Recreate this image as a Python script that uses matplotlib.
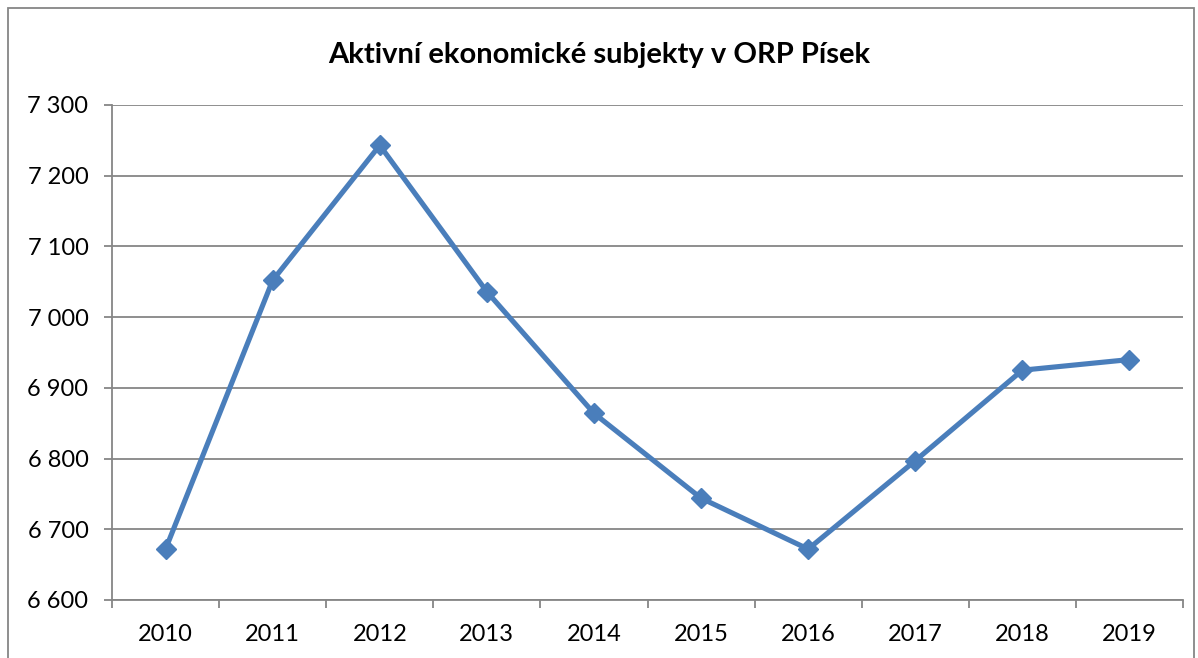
import matplotlib
matplotlib.use("Agg")
import matplotlib.pyplot as plt
from matplotlib.patches import Rectangle
import numpy as np

years = ["2010", "2011", "2012", "2013", "2014", "2015", "2016", "2017", "2018", "2019"]
values = [6672, 7052, 7243, 7036, 6864, 6744, 6672, 6797, 6925, 6940]
yticks = [6600, 6700, 6800, 6900, 7000, 7100, 7200, 7300]
title = "Aktivní ekonomické subjekty v ORP Písek"

plt.rcParams['font.family'] = ['Lato', 'DejaVu Sans']

fig = plt.figure(figsize=(11.98, 6.58), dpi=100)
ax = fig.add_axes([112/1198, 58/658, (1183-112)/1198, (600-105)/658])

grey = "#868686"
x = np.arange(len(years))
ax.plot(x, values, color="#4A7EBB", lw=3.7, marker="D", markersize=10.5, zorder=3)

ax.set_xlim(-0.5, len(years) - 0.5)
ax.set_ylim(6600, 7300)
ax.set_yticks(yticks)
ax.set_yticklabels([f"{v:,}".replace(",", " ") for v in yticks], fontsize=17)
ax.set_xticks(np.arange(-0.5, len(years)), labels=[])
ax.set_xticks(x, minor=True)
ax.set_xticklabels(years, minor=True, fontsize=17)
ax.tick_params(axis="x", which="minor", length=0, pad=17)
ax.tick_params(axis="x", which="major", length=6, color=grey, width=1.3)
ax.tick_params(axis="y", length=6, color=grey, width=1.3, pad=11)
ax.grid(axis="y", color=grey, lw=1.3)
ax.set_axisbelow(True)
for s in ["top", "right"]:
    ax.spines[s].set_visible(False)
for s in ["left", "bottom"]:
    ax.spines[s].set_color(grey)
    ax.spines[s].set_linewidth(1.3)

fig.text(0.5, 1 - 55/658, title, ha="center", va="center", fontsize=21, fontweight="bold")

fig.patches.append(Rectangle((8/1198, -0.1), (1194-8)/1198, 1 - 8/658 + 0.1,
                             transform=fig.transFigure, fill=False, edgecolor=grey, lw=1.3))

fig.savefig("out.png", dpi=100)
